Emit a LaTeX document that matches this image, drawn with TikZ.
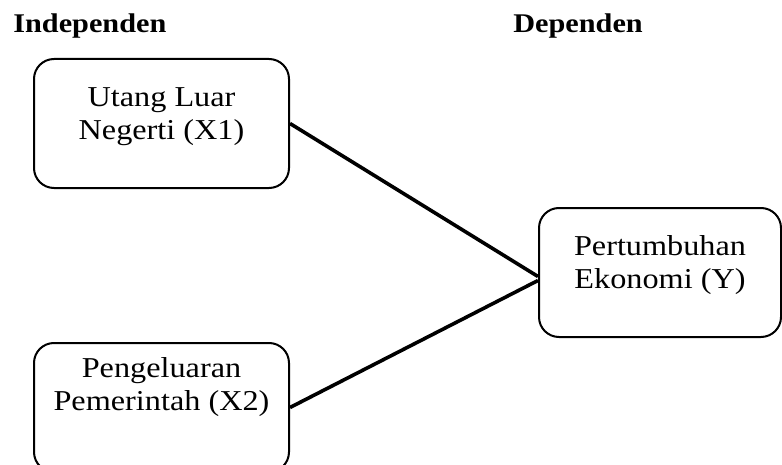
\documentclass[tikz,border=0pt]{standalone}
\usepackage{fontspec}
\setmainfont{Liberation Serif}[FakeStretch=1.12]
\usetikzlibrary{positioning,calc}

\begin{document}
\begin{tikzpicture}[x=0.5pt,y=-0.5pt,
  every node/.style={font=\fontsize{14.4}{16.5}\selectfont},
  heading/.style={inner sep=0pt,anchor=base west,font=\fontsize{13.5}{15}\selectfont\bfseries},
  varbox/.style={draw,line width=1pt,rounded corners=10pt,align=center,
    inner xsep=0pt,inner ysep=0pt,anchor=north west},
  to/.style={line width=1.8pt}]

    \useasboundingbox (0,0) rectangle (782,465);

    \node[heading](indep) at (13,33) {Independen};
    \node[heading](dep) at (513,33) {Dependen};

    % text height is taken from the last line
    \node[varbox,minimum width=127.5pt,text height=40.5pt,text depth=24pt](uln) at (33,58)
        {Utang Luar\\Negerti (X1)};
    \node[varbox,minimum width=127.5pt,text height=33.5pt,text depth=31pt](pp) at (33,342)
        {Pengeluaran\\Pemerintah (X2)};
    \node[varbox,minimum width=121pt,text height=40pt,text depth=24.5pt](pe) at (538,207)
        {Pertumbuhan\\Ekonomi (Y)};

    \draw[to](uln.east) -- ([yshift=-2pt]pe.west);
    \draw[to](pp.east) -- ([yshift=-4pt]pe.west);
\end{tikzpicture}
\end{document}
